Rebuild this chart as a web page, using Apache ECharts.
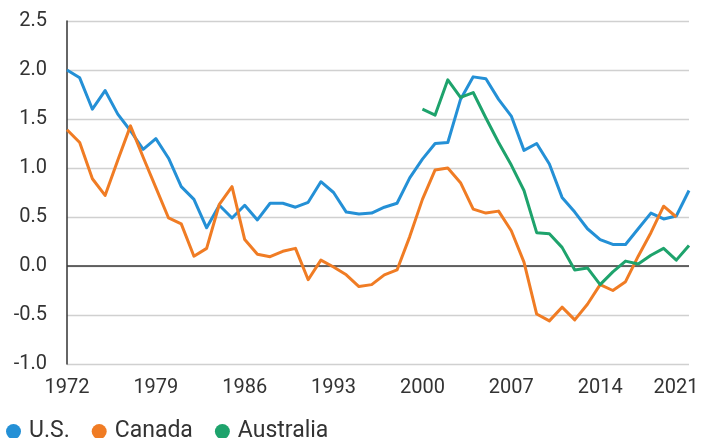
<!DOCTYPE html>
<html>
<head>
<meta charset="utf-8">
<script src="https://cdn.jsdelivr.net/npm/echarts@6/dist/echarts.min.js"></script>
<style>
  html, body { margin: 0; padding: 0; background: #fff; }
  #chart { width: 710px; height: 438px; }
</style>
</head>
<body>
<div id="chart"></div>
<script>
const years = [];
for (let y = 1972; y <= 2021; y++) years.push(String(y));

const us = [
  2.00, 1.92, 1.60, 1.79, 1.55, 1.38, 1.19, 1.30, 1.10, 0.81,
  0.68, 0.39, 0.62, 0.49, 0.62, 0.47, 0.64, 0.64, 0.60, 0.65,
  0.86, 0.75, 0.55, 0.53, 0.54, 0.60, 0.64, 0.90, 1.09, 1.25,
  1.26, 1.70, 1.93, 1.91, 1.70, 1.53, 1.18, 1.25, 1.04, 0.70,
  0.55, 0.38, 0.27, 0.22, 0.22, 0.38, 0.54, 0.48, 0.51, 0.77
];
const canada = [
  1.39, 1.26, 0.89, 0.72, 1.08, 1.43, 1.11, 0.80, 0.49, 0.43,
  0.10, 0.18, 0.63, 0.81, 0.27, 0.12, 0.095, 0.15, 0.18, -0.14,
  0.06, -0.01, -0.09, -0.21, -0.19, -0.09, -0.04, 0.30, 0.68, 0.98,
  1.00, 0.85, 0.58, 0.54, 0.56, 0.36, 0.04, -0.49, -0.56, -0.42,
  -0.55, -0.39, -0.19, -0.25, -0.16, 0.10, 0.34, 0.61, 0.50, null
];
const australia = [
  null, null, null, null, null, null, null, null, null, null,
  null, null, null, null, null, null, null, null, null, null,
  null, null, null, null, null, null, null, null, 1.60, 1.54,
  1.90, 1.72, 1.77, 1.51, 1.26, 1.03, 0.77, 0.34, 0.33, 0.19,
  -0.04, -0.02, -0.19, -0.06, 0.05, 0.02, 0.11, 0.18, 0.06, 0.21
];
const seriesNames = ['U.S.', 'Canada', 'Australia'];
const colors = ['#2490d6', '#f07c24', '#1ea36c'];

const FONT = 'Roboto';
const chart = echarts.init(document.getElementById('chart'), null, { renderer: 'canvas' });

const mkLine = (name, data, color, extra) => Object.assign({
  name, type: 'line', data, showSymbol: false, symbol: 'none',
  lineStyle: { color, width: 3, join: 'round' }, itemStyle: { color },
  connectNulls: false, animation: false, z: 3
}, extra || {});

chart.setOption({
  animation: false,
  grid: { left: 67, right: 21, top: 21, bottom: 74, containLabel: false },
  legend: {
    left: 6, top: 420, padding: 0, icon: 'circle', itemWidth: 15, itemHeight: 15, itemGap: 22,
    textStyle: { fontFamily: FONT, fontSize: 23, lineHeight: 20, color: '#333', padding: [0, 0, 0, 3] },
    data: seriesNames
  },
  xAxis: {
    type: 'category', data: years, boundaryGap: false,
    axisLine: { show: false }, axisTick: { show: false },
    axisLabel: {
      interval: 6, margin: 14, color: '#333', fontFamily: FONT, fontSize: 20,
      formatter: (v) => v === '2021' ? '{last|' + v + '}' : v,
      rich: { last: { fontFamily: FONT, fontSize: 20, color: '#333', padding: [0, 26, 0, 0] } }
    },
    splitLine: { show: false }
  },
  yAxis: {
    type: 'value', min: -1, max: 2.5, interval: 0.5,
    axisLine: { show: true, lineStyle: { color: '#333', width: 1.5 } },
    axisTick: { show: false },
    axisLabel: { margin: 20, color: '#333', fontFamily: FONT, fontSize: 20, formatter: (v) => v.toFixed(1) },
    splitLine: { show: true, lineStyle: { color: '#d0d0d0', width: 1.3 } }
  },
  series: [
    mkLine(seriesNames[0], us, colors[0], {
      markLine: {
        silent: true, symbol: 'none', label: { show: false },
        lineStyle: { color: '#3a3a3a', width: 1.5, type: 'solid' },
        data: [{ yAxis: 0 }], z: 2
      }
    }),
    mkLine(seriesNames[1], canada, colors[1]),
    mkLine(seriesNames[2], australia, colors[2])
  ]
});
</script>
</body>
</html>
